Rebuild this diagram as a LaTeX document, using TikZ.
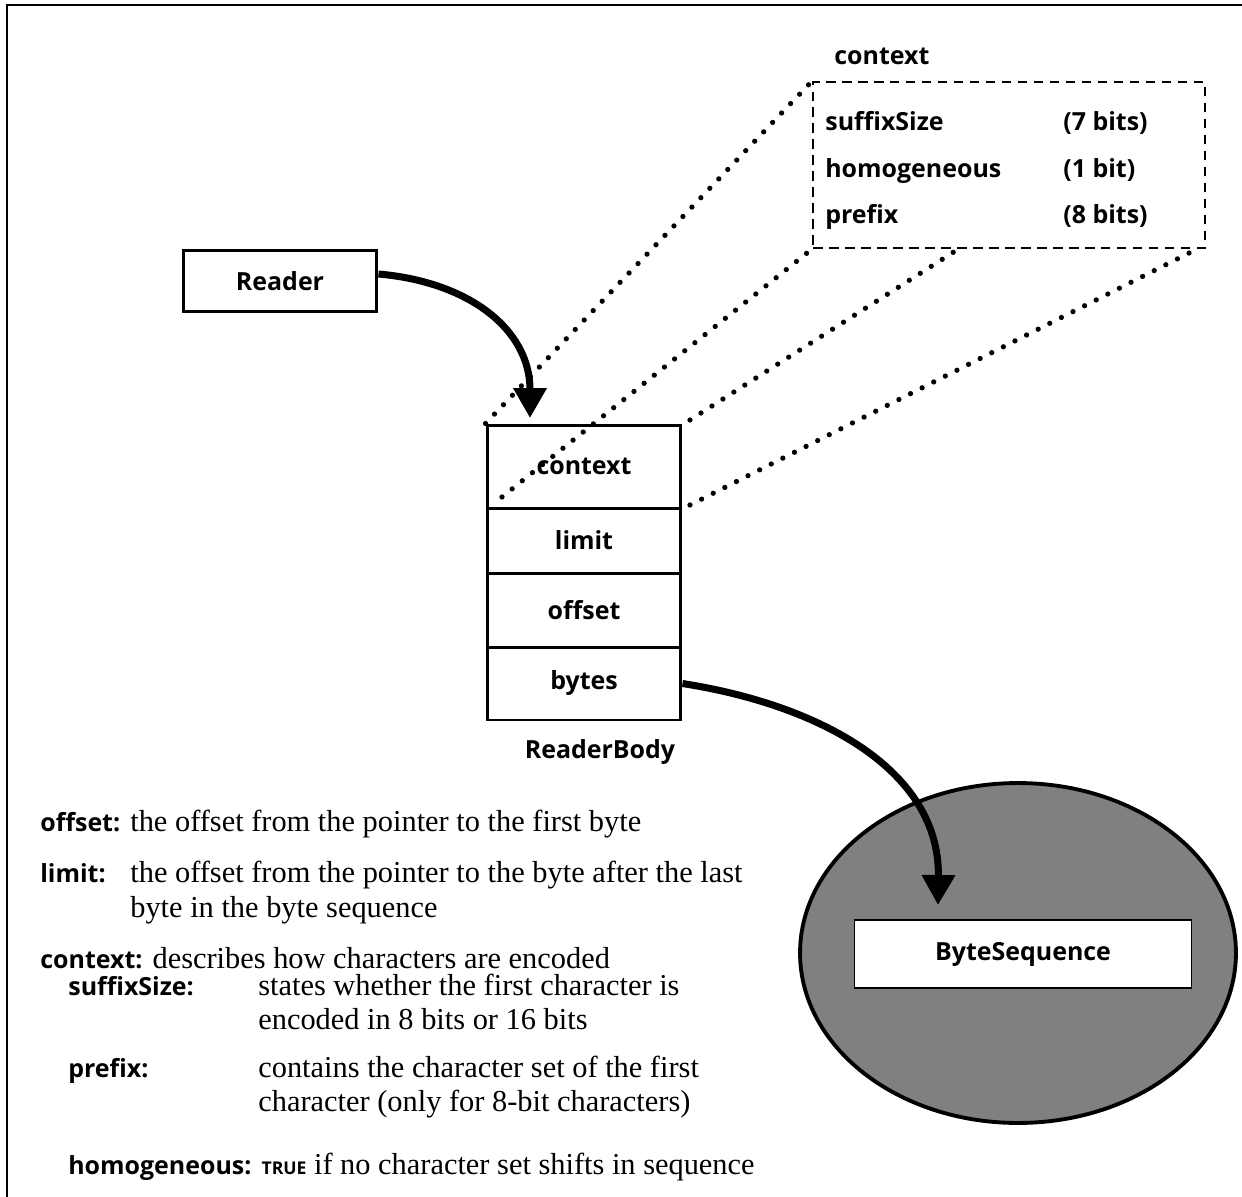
\documentclass[tikz,border=0pt]{standalone}
\usepackage{fontspec}
\setmainfont{Liberation Serif}
\newfontfamily\lab{Open Sans}
\usetikzlibrary{arrows.meta,shapes.geometric}

\tikzset{
  lbl/.style={font=\lab\bfseries\fontsize{14.2pt}{17pt}\selectfont},
  body/.style={font=\fontsize{17.3pt}{20pt}\selectfont, inner sep=0pt, anchor=base west},
  cell/.style={draw, line width=1.7pt, minimum width=3.88cm, inner sep=0pt, lbl},
  dotline/.style={line width=3pt, line cap=round, dash pattern=on 0pt off 7.4pt},
  ptr/.style={line width=4pt, -{Triangle[length=0.6cm,width=0.64cm]}},
}
\newcommand{\bl}[1]{{\lab\bfseries\fontsize{14.2pt}{17pt}\selectfont #1}}

\begin{document}
\begin{tikzpicture}[x=0.02cm, y=-0.02cm]
  \useasboundingbox (0,0) rectangle (1242,1197);
  % open page frame
  \draw[line width=1.1pt] (1242,5) -- (7,5) -- (7,1197);

  % Reader
  \node[cell, minimum height=1.22cm] (reader) at (280,281) {Reader};

  % ReaderBody record
  \node[cell, minimum height=1.66cm] (ctx)   at (584,466.5) {context};
  \node[cell, minimum height=1.30cm] (limit) at (584,540.5) {limit};
  \node[cell, minimum height=1.48cm] (off)   at (584,610) {offset};
  \node[cell, minimum height=1.46cm] (bytes) at (584,683.5) {bytes};
  \node[lbl] (rbody) at (600,752) {ReaderBody};

  % expanded context field
  \node[lbl, anchor=base west, inner sep=0pt] (ctxtitle) at (834,64) {context};
  \node[draw, line width=1.1pt, dash pattern=on 5.5pt off 3.6pt,
        minimum width=7.84cm, minimum height=3.32cm, inner sep=0pt] (ctxbox) at (1009,165) {};
  \node[lbl, anchor=base west, inner sep=0pt] (f1) at (825,130) {suffixSize};
  \node[lbl, anchor=base west, inner sep=0pt] (f2) at (825,177) {homogeneous};
  \node[lbl, anchor=base west, inner sep=0pt] (f3) at (825,223) {prefix};
  \node[lbl, anchor=base west, inner sep=0pt] (b1) at (1063,130) {(7 bits)};
  \node[lbl, anchor=base west, inner sep=0pt] (b2) at (1063,177) {(1 bit)};
  \node[lbl, anchor=base west, inner sep=0pt] (b3) at (1063,223) {(8 bits)};

  % projection lines from the context cell
  \coordinate (p2) at (502,497);
  \coordinate (p3) at (690,420);
  \coordinate (q3) at (960,248);
  \coordinate (p4) at (690,505);
  \coordinate (q4) at (1195,250);
  \draw[dotline] (ctx.north west) -- (ctxbox.north west);
  \draw[dotline] (p2) -- (ctxbox.south west);
  \draw[dotline] (p3) -- (q3);
  \draw[dotline] (p4) -- (q4);

  % ByteSequence
  \node[ellipse, draw, line width=2.2pt, fill=black!50,
        minimum width=8.72cm, minimum height=6.8cm] (bsell) at (1018,953) {};
  \node[draw, fill=white, line width=0.9pt, minimum width=6.74cm,
        minimum height=1.36cm, lbl] (bseq) at (1023,954) {ByteSequence};

  % pointers
  \coordinate (t1) at (530,418);
  \draw[ptr] ([yshift=0.14cm]reader.east) .. controls (470,282) and (530,330) .. (t1);
  \coordinate (t2) at (938,905);
  \draw[ptr] (bytes.east) .. controls (820,705) and (940,770) .. (t2);

  % field descriptions
  \node[body] (doff) at (40,831) {\bl{offset:} the offset from the pointer to the first byte};
  \node[body] (dlimk) at (40,882) {\bl{limit:}};
  \node[body] (dlim1) at (130,882) {the offset from the pointer to the byte after the last};
  \node[body] (dlim2) at (130,917) {byte in the byte sequence};
  \node[body] (dctx) at (40,968) {\bl{context:} describes how characters are encoded};
  \node[body] (dsfk) at (68,995) {\bl{suffixSize:}};
  \node[body] (dsf1) at (258,995) {states whether the first character is};
  \node[body] (dsf2) at (258,1029) {encoded in 8 bits or 16 bits};
  \node[body] (dpfk) at (68,1077) {\bl{prefix:}};
  \node[body] (dpf1) at (258,1077) {contains the character set of the first};
  \node[body] (dpf2) at (258,1111) {character (only for 8-bit characters)};
  \node[body] (dhom) at (68,1174) {\bl{homogeneous:} {\lab\bfseries\fontsize{10pt}{12pt}\selectfont TRUE} if no character set shifts in sequence};
\end{tikzpicture}
\end{document}
